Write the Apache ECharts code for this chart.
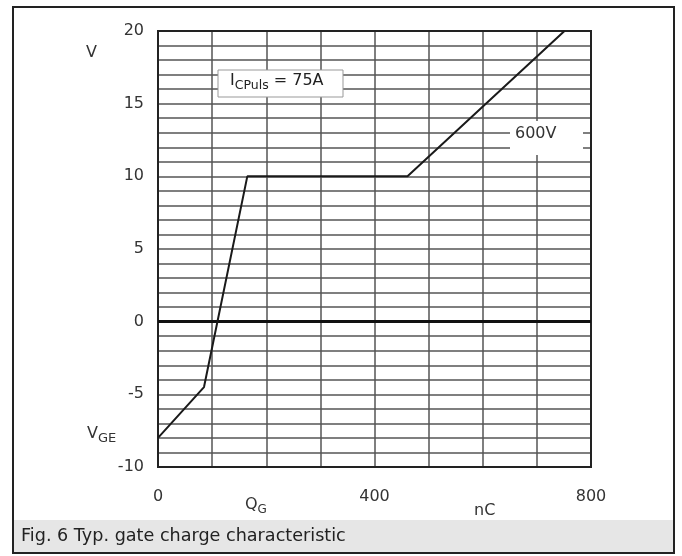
<!DOCTYPE html>
<html>
<head>
<meta charset="utf-8">
<script src="https://cdn.jsdelivr.net/npm/echarts@6/dist/echarts.min.js"></script>
<style>
  html, body { margin: 0; padding: 0; background: #fff; }
  #chart { width: 682px; height: 556px; }
</style>
</head>
<body>
<div id="chart"></div>
<script>
// gate charge curve, Q_G in nC vs V_GE in V
var qG = [0, 85, 165, 461, 751];
var vGE = [-8, -4.5, 10, 10, 20];
var xLabels = [0, 400, 800];
var yLabels = [-10, -5, 0, 5, 10, 15, 20];

var font = '"DejaVu Sans", Arial, sans-serif';
var txt = '#333';
var gridCol = '#555';

var myChart = echarts.init(document.getElementById('chart'));

var option = {
    animation: false,
    backgroundColor: '#fff',
    grid: {
        left: 158, right: 91, top: 31, bottom: 89,
        show: true,
        borderColor: '#222',
        borderWidth: 2,
        z: 3
    },
    xAxis: {
        type: 'value',
        min: 0, max: 800, interval: 100,
        axisLine: { show: false, onZero: false },
        axisTick: { show: false },
        splitLine: { show: true, lineStyle: { color: gridCol, width: 1.5 } },
        axisLabel: {
            margin: 22,
            fontFamily: font, fontSize: 16, color: txt,
            formatter: function (v) { return xLabels.indexOf(v) >= 0 ? String(v) : ''; }
        }
    },
    yAxis: {
        type: 'value',
        min: -10, max: 20, interval: 1,
        axisLine: { show: false },
        axisTick: { show: false },
        splitLine: { show: true, lineStyle: { color: gridCol, width: 1.5 } },
        axisLabel: {
            margin: 14,
            fontFamily: font, fontSize: 16, color: txt,
            formatter: function (v) { return yLabels.indexOf(v) >= 0 ? String(v) : ''; }
        }
    },
    series: [{
        type: 'line',
        data: qG.map(function (q, i) { return [q, vGE[i]]; }),
        showSymbol: false,
        lineStyle: { color: '#1a1a1a', width: 2 },
        z: 5,
        markLine: {
            silent: true,
            symbol: 'none',
            label: { show: false },
            lineStyle: { color: '#111', width: 3, type: 'solid' },
            data: [{ yAxis: 0 }]
        }
    }],
    graphic: [
        // outer frame
        { type: 'rect', shape: { x: 13, y: 7, width: 661, height: 546 },
          style: { fill: 'none', stroke: '#222', lineWidth: 2 }, z: 10 },
        // caption band
        { type: 'rect', shape: { x: 14, y: 520, width: 659, height: 32 },
          style: { fill: '#e6e6e6' }, z: 9 },
        { type: 'text', left: 21, top: 527,
          style: { text: 'Fig. 6 Typ. gate charge characteristic', font: '17.6px ' + font, fill: '#222' }, z: 11 },
        // axis names
        { type: 'text', left: 86, top: 45,
          style: { text: 'V', font: '16px ' + font, fill: txt }, z: 11 },
        { type: 'text', left: 87, top: 426,
          style: {
              text: '{m|V}{s|GE}',
              rich: {
                  m: { fontFamily: font, fontSize: 16, fill: txt },
                  s: { fontFamily: font, fontSize: 13, fill: txt, padding: [9, 0, 0, 0] }
              }
          }, z: 11 },
        { type: 'text', left: 245, top: 497,
          style: {
              text: '{m|Q}{s|G}',
              rich: {
                  m: { fontFamily: font, fontSize: 16, fill: txt },
                  s: { fontFamily: font, fontSize: 12, fill: txt, padding: [9, 0, 0, 0] }
              }
          }, z: 11 },
        { type: 'text', left: 474, top: 503,
          style: { text: 'nC', font: '16px ' + font, fill: txt }, z: 11 },
        // current annotation
        { type: 'rect', shape: { x: 218, y: 70, width: 125, height: 27 },
          style: { fill: '#fff', stroke: '#999', lineWidth: 1 }, z: 11 },
        { type: 'text', left: 230, top: 73,
          style: {
              text: '{m|I}{s|CPuls}{m| = 75A}',
              rich: {
                  m: { fontFamily: font, fontSize: 16, fill: '#222' },
                  s: { fontFamily: font, fontSize: 12.5, fill: '#222', padding: [9, 0, 0, 0] }
              }
          }, z: 12 },
        // voltage label
        { type: 'rect', shape: { x: 510, y: 121, width: 73, height: 34 },
          style: { fill: '#fff' }, z: 11 },
        { type: 'text', left: 515, top: 126,
          style: { text: '600V', font: '16px ' + font, fill: '#333' }, z: 12 }
    ]
};
myChart.setOption(option);
</script>
</body>
</html>
